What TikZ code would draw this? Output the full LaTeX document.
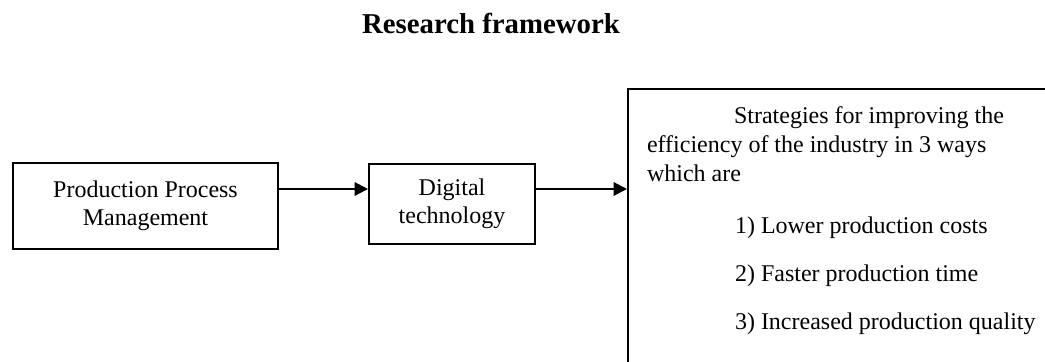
\documentclass[tikz,border=0pt]{standalone}
\usepackage{fontspec}
\setmainfont{Liberation Serif}
\usetikzlibrary{arrows.meta}

\begin{document}
\begin{tikzpicture}[x=0.75pt, y=-0.75pt,
    every node/.style={font=\fontsize{18}{21}\selectfont},
    box/.style={draw, line width=1.5pt, align=center, inner sep=0pt},
    link/.style={line width=1.5pt, -{Triangle[length=10pt, width=10pt]}}]
            \path[use as bounding box, clip] (0,0) rectangle (1045,361);
            \node[font=\fontsize{21.6}{26}\selectfont\bfseries, anchor=base] (title) at (491,33) {Research framework};
            \node[box, minimum width=198.75pt, minimum height=64.5pt] (ppm) at (145.5,206) {Production Process\\Management};
            \node[box, minimum width=124.5pt, minimum height=60pt] (tech) at (452,204) {Digital\\technology};
            % the right box runs off the page
            \node[draw, line width=1.5pt, inner xsep=14.25pt, inner ysep=0pt, anchor=north west] (strat) at (627,88)
                {\parbox[t][219pt][t]{296pt}{\fontsize{18}{21.75}\selectfont
                 \rule{0pt}{25.5pt}\hspace*{65.25pt}Strategies for improving the\\
                 efficiency of the industry in 3 ways\\
                 which are\\[17.25pt]
                 \hspace*{66pt}1) Lower production costs\\[14.25pt]
                 \hspace*{66pt}2) Faster production time\\[14.25pt]
                 \hspace*{66pt}3) Increased production quality}};
            \coordinate (lvl) at (0,189);
            \draw[link] (ppm.east |- lvl) -- (tech.west |- lvl);
            \draw[link] (tech.east |- lvl) -- (strat.west |- lvl);
        \end{tikzpicture}
\end{document}
